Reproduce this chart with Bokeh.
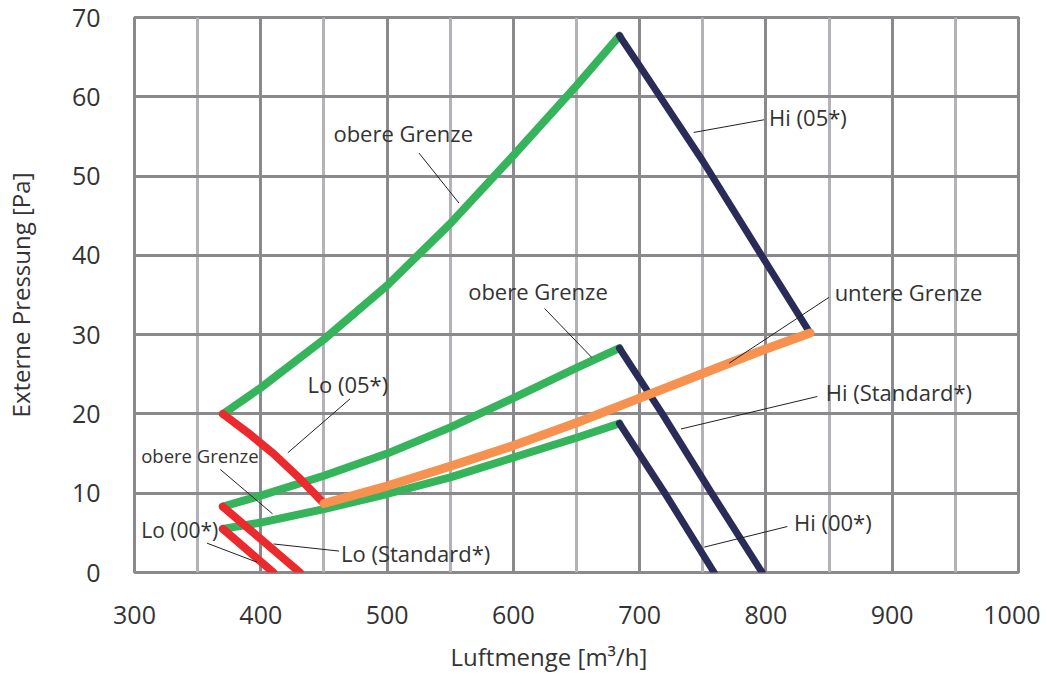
from bokeh.plotting import figure
from bokeh.models import Range1d, FixedTicker, Label, Title
from bokeh.embed import file_html
from bokeh.resources import INLINE

# ---------------- data ----------------
x_ticks = [300, 400, 500, 600, 700, 800, 900, 1000]
x_minor = [350, 450, 550, 650, 750, 850, 950]
y_ticks = [0, 10, 20, 30, 40, 50, 60, 70]

x_title = "Luftmenge [m³/h]"
y_title = "Externe Pressung [Pa]"

# green limit curves (obere Grenze)
green_x = [370, 400, 450, 500, 550, 600, 650, 684]
green_top_y = [20.0, 23.3, 29.4, 36.2, 44.0, 52.6, 61.4, 67.7]
green_mid_y = [8.3, 9.7, 12.2, 15.0, 18.3, 22.0, 25.8, 28.3]
green_low_y = [5.5, 6.3, 8.0, 9.9, 12.0, 14.5, 17.0, 18.8]

# orange lower limit (untere Grenze)
orange_x = [450, 500, 550, 600, 650, 700, 750, 800, 835]
orange_y = [8.7, 10.9, 13.4, 16.0, 18.9, 22.0, 25.1, 28.2, 30.2]

# red Lo curves
lo05_x = [370, 390, 410, 430, 450]
lo05_y = [20.0, 17.6, 15.0, 12.0, 8.7]
lostd_x = [370, 431]
lostd_y = [8.3, 0.0]
lo00_x = [370, 410]
lo00_y = [5.5, 0.0]

# navy Hi curves
hi05_x = [684, 700, 750, 800, 835]
hi05_y = [67.7, 63.9, 51.9, 39.1, 30.2]
histd_x = [684, 718, 757, 797]
histd_y = [28.3, 20.0, 10.0, 0.0]
hi00_x = [684, 720, 759]
hi00_y = [18.8, 10.0, 0.0]

label_texts = ["obere Grenze", "Lo (05*)", "obere Grenze", "Lo (00*)",
               "Lo (Standard*)", "Hi (05*)", "untere Grenze",
               "Hi (Standard*)", "Hi (00*)", "obere Grenze"]

# ---------------- layout / style ----------------
GREEN = "#36b45c"
RED = "#ec2a2e"
ORANGE = "#f6914f"
NAVY = "#2a2b56"
GRID_DARK = "#8a8a8c"
GRID_LIGHT = "#b3b3b7"
TEXT = "#333333"
FONT = "Open Sans"

p = figure(width=1040, height=687, output_backend="svg", toolbar_location=None,
           x_range=Range1d(300, 1000), y_range=Range1d(0, 70),
           min_border_left=132, min_border_right=22, min_border_top=17,
           min_border_bottom=115)
p.background_fill_color = "white"
p.border_fill_color = "white"
p.outline_line_color = GRID_DARK
p.outline_line_width = 3

p.xaxis.ticker = FixedTicker(ticks=x_ticks, minor_ticks=x_minor)
p.yaxis.ticker = FixedTicker(ticks=y_ticks)
for ax in (p.xaxis[0], p.yaxis[0]):
    ax.axis_line_color = None
    ax.major_tick_line_color = None
    ax.minor_tick_line_color = None
    ax.major_tick_out = 0
    ax.major_tick_in = 0
    ax.minor_tick_out = 0
    ax.minor_tick_in = 0
    ax.major_label_text_font = FONT
    ax.major_label_text_font_size = "25px"
    ax.major_label_text_color = TEXT
p.xaxis.major_label_standoff = 33
p.yaxis.major_label_standoff = 34
p.yaxis.axis_label = y_title
p.yaxis.axis_label_text_font = FONT
p.yaxis.axis_label_text_font_size = "24px"
p.yaxis.axis_label_text_font_style = "normal"
p.yaxis.axis_label_text_color = TEXT
p.yaxis.axis_label_standoff = 32

p.xgrid.grid_line_color = GRID_DARK
p.xgrid.grid_line_width = 3
p.xgrid.minor_grid_line_color = GRID_LIGHT
p.xgrid.minor_grid_line_width = 3
p.ygrid.grid_line_color = GRID_DARK
p.ygrid.grid_line_width = 3

lw = dict(line_cap="round", line_join="round")
p.line(green_x, green_top_y, line_color=GREEN, line_width=8, **lw)
p.line(green_x, green_mid_y, line_color=GREEN, line_width=8, **lw)
p.line(green_x, green_low_y, line_color=GREEN, line_width=8, **lw)
p.line(lo05_x, lo05_y, line_color=RED, line_width=8, **lw)
p.line(lostd_x, lostd_y, line_color=RED, line_width=8, **lw)
p.line(lo00_x, lo00_y, line_color=RED, line_width=8, **lw)
p.line(hi05_x, hi05_y, line_color=NAVY, line_width=7, **lw)
p.line(histd_x, histd_y, line_color=NAVY, line_width=7, **lw)
p.line(hi00_x, hi00_y, line_color=NAVY, line_width=7, **lw)
p.line(orange_x, orange_y, line_color=ORANGE, line_width=9, **lw)

# annotation positions (data coords): text anchor (left, middle), leader start/end
label_pos = [(457.5, 55.4), (437.0, 23.8), (305.3, 14.7), (305.3, 5.4),
             (463.5, 2.4), (802.5, 57.4), (854.4, 35.4), (847.3, 22.8),
             (822.2, 6.4), (564.2, 35.5)]
label_sizes = ["22px", "22px", "18.5px", "21px", "22px", "22px", "22px",
               "22px", "22px", "22px"]
leaders = [((525.3, 52.9), (556.9, 46.6)),
           ((470.7, 21.9), (421.4, 15.1)),
           ((367.9, 13.0), (409.3, 7.4)),
           ((357.4, 3.7), (397.0, 1.3)),
           ((462.0, 2.7), (410.1, 3.6)),
           ((798.5, 57.1), (742.8, 55.5)),
           ((849.9, 34.7), (770.9, 26.4)),
           ((840.7, 22.2), (732.7, 18.1)),
           ((817.0, 5.8), (751.1, 3.2)),
           ((624.7, 33.3), (662.2, 27.1))]

p.segment(x0=[a[0][0] for a in leaders], y0=[a[0][1] for a in leaders],
          x1=[a[1][0] for a in leaders], y1=[a[1][1] for a in leaders],
          line_color="#222222", line_width=1)

for t, (lx, ly), fs in zip(label_texts, label_pos, label_sizes):
    p.add_layout(Label(x=lx, y=ly, text=t, text_font=FONT, text_font_size=fs,
                       text_color=TEXT, text_align="left", text_baseline="middle"))

p.add_layout(Title(text=x_title, align="left", offset=316, text_font=FONT,
                   text_font_size="24px", text_font_style="normal",
                   text_color=TEXT, standoff=22), "below")

open("out.html", "w").write(file_html(p, INLINE))
